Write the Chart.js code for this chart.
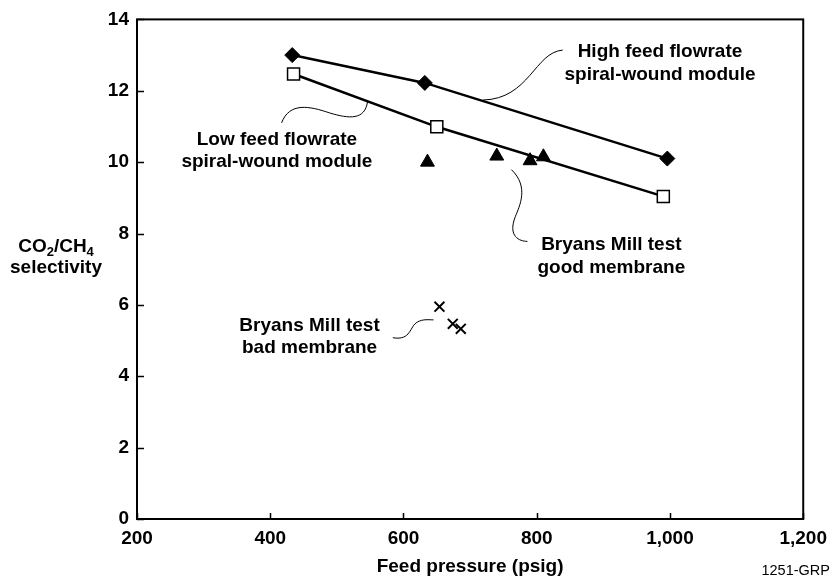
<!DOCTYPE html>
<html>
<head>
<meta charset="utf-8">
<script src="https://cdn.jsdelivr.net/npm/chart.js@4.4.1/dist/chart.umd.min.js"></script>
<style>
  body { margin: 0; background: #fff; }
  #wrap { position: relative; width: 835px; height: 578px; }
</style>
</head>
<body>
<div id="wrap"><canvas id="chart"></canvas></div>
<script>
// Feed pressure (psig) vs CO2/CH4 selectivity
const highFlowPressure = [433, 632, 996];
const highFlowSelectivity = [13.0, 12.22, 10.1];
const lowFlowPressure = [435, 650, 990];
const lowFlowSelectivity = [12.47, 10.99, 9.04];
const goodMembranePressure = [636, 740, 790, 810];
const goodMembraneSelectivity = [10.0, 10.17, 10.04, 10.15];
const badMembranePressure = [654, 674, 686];
const badMembraneSelectivity = [5.95, 5.47, 5.33];

const xTicks = [200, 400, 600, 800, 1000, 1200];
const yTicks = [0, 2, 4, 6, 8, 10, 12, 14];

const FONT = '"Liberation Sans", Arial, Helvetica, sans-serif';

const toPoints = (xs, ys) => xs.map((x, i) => ({ x: x, y: ys[i] }));

// callout labels: text lines, anchor (data units) and a leader curve (data units)
const callouts = [
  {
    lines: ['High feed flowrate', 'spiral-wound module'],
    at: [985, 12.94],
    curve: [[839, 13.14], [797, 13.08], [789, 11.77], [719, 11.74]]
  },
  {
    lines: ['Low feed flowrate', 'spiral-wound module'],
    at: [410, 10.49],
    curve: [[417, 11.1], [429, 11.69], [459, 11.57], [489, 11.38],
            [519, 11.21], [542, 11.18], [546, 11.69]]
  },
  {
    lines: ['Bryans Mill test', 'good membrane'],
    at: [912, 7.53],
    curve: [[762, 9.79], [789, 9.31], [774, 8.76], [768, 8.48],
            [756, 7.92], [774, 7.78], [786, 7.78]]
  },
  {
    lines: ['Bryans Mill test', 'bad membrane'],
    at: [459, 5.27],
    curve: [[584, 5.08], [612, 4.99], [609, 5.41], [621, 5.52],
            [629, 5.61], [639, 5.58], [645, 5.58]]
  }
];

const decorations = {
  id: 'decorations',
  afterDraw(chart) {
    const { ctx, chartArea: a, scales: { x, y } } = chart;
    ctx.save();

    // frame
    ctx.strokeStyle = '#000';
    ctx.lineWidth = 2;
    ctx.strokeRect(a.left, a.top, a.right - a.left, a.bottom - a.top);

    // inward tick marks
    ctx.lineWidth = 1.5;
    ctx.beginPath();
    xTicks.forEach(v => {
      const px = Math.round(x.getPixelForValue(v)) + 0.5;
      ctx.moveTo(px, a.bottom);
      ctx.lineTo(px, a.bottom - 6);
    });
    yTicks.forEach(v => {
      const py = Math.round(y.getPixelForValue(v)) + 0.5;
      ctx.moveTo(a.left, py);
      ctx.lineTo(a.left + 7, py);
    });
    ctx.stroke();

    // callouts
    ctx.fillStyle = '#000';
    ctx.font = 'bold 19px ' + FONT;
    ctx.textAlign = 'center';
    ctx.textBaseline = 'alphabetic';
    callouts.forEach(c => {
      const cx = x.getPixelForValue(c.at[0]);
      const cy = y.getPixelForValue(c.at[1]);
      c.lines.forEach((t, i) => ctx.fillText(t, cx, cy + i * 22.5));

      const p = c.curve.map(q => [x.getPixelForValue(q[0]), y.getPixelForValue(q[1])]);
      ctx.lineWidth = 1;
      ctx.beginPath();
      ctx.moveTo(p[0][0], p[0][1]);
      for (let i = 1; i + 2 < p.length; i += 3) {
        ctx.bezierCurveTo(p[i][0], p[i][1], p[i + 1][0], p[i + 1][1], p[i + 2][0], p[i + 2][1]);
      }
      ctx.stroke();
    });

    // y axis title with subscripts
    const parts = [['CO', false], ['2', true], ['/CH', false], ['4', true]];
    const big = 'bold 19px ' + FONT;
    const small = 'bold 13px ' + FONT;
    let total = 0;
    parts.forEach(([t, sub]) => {
      ctx.font = sub ? small : big;
      total += ctx.measureText(t).width;
    });
    let tx = 56 - total / 2;
    ctx.textAlign = 'left';
    parts.forEach(([t, sub]) => {
      ctx.font = sub ? small : big;
      ctx.fillText(t, tx, sub ? 256 : 252);
      tx += ctx.measureText(t).width;
    });
    ctx.font = big;
    ctx.textAlign = 'center';
    ctx.fillText('selectivity', 56, 273);

    // figure id
    ctx.font = '14.5px ' + FONT;
    ctx.textAlign = 'right';
    ctx.fillText('1251-GRP', 830, 575);

    ctx.restore();
  }
};

new Chart(document.getElementById('chart'), {
  type: 'scatter',
  data: {
    datasets: [
      {
        label: 'High feed flowrate spiral-wound module',
        data: toPoints(highFlowPressure, highFlowSelectivity),
        showLine: true,
        borderColor: '#000',
        borderWidth: 2.5,
        pointStyle: 'rectRot',
        pointRadius: 7.5,
        pointBackgroundColor: '#000',
        pointBorderColor: '#000',
        pointBorderWidth: 1
      },
      {
        label: 'Low feed flowrate spiral-wound module',
        data: toPoints(lowFlowPressure, lowFlowSelectivity),
        showLine: true,
        borderColor: '#000',
        borderWidth: 2.5,
        pointStyle: 'rect',
        pointRadius: 8.5,
        pointBackgroundColor: '#fff',
        pointBorderColor: '#000',
        pointBorderWidth: 1.5
      },
      {
        label: 'Bryans Mill test good membrane',
        data: toPoints(goodMembranePressure, goodMembraneSelectivity),
        pointStyle: 'triangle',
        pointRadius: 8,
        pointBackgroundColor: '#000',
        pointBorderColor: '#000',
        pointBorderWidth: 1
      },
      {
        label: 'Bryans Mill test bad membrane',
        data: toPoints(badMembranePressure, badMembraneSelectivity),
        pointStyle: 'crossRot',
        pointRadius: 7,
        pointBorderColor: '#000',
        pointBorderWidth: 2
      }
    ]
  },
  options: {
    responsive: true,
    maintainAspectRatio: false,
    animation: false,
    layout: { padding: { top: 17, right: 31, left: 0, bottom: 0 } },
    plugins: {
      legend: { display: false },
      tooltip: { enabled: false }
    },
    scales: {
      x: {
        type: 'linear',
        min: 200,
        max: 1200,
        afterBuildTicks: s => { s.ticks = xTicks.map(v => ({ value: v })); },
        afterFit: s => { s.height = 59; },
        grid: { display: false, drawTicks: false, tickLength: 0 },
        border: { display: false },
        ticks: {
          color: '#000',
          padding: 8,
          maxRotation: 0,
          autoSkip: false,
          font: { family: FONT, size: 19, weight: 'bold' },
          callback: v => v.toLocaleString('en-US')
        },
        title: {
          display: true,
          text: 'Feed pressure (psig)',
          color: '#000',
          padding: { top: 5, bottom: 0 },
          font: { family: FONT, size: 19, weight: 'bold' }
        }
      },
      y: {
        type: 'linear',
        min: 0,
        max: 14,
        afterBuildTicks: s => { s.ticks = yTicks.map(v => ({ value: v })); },
        afterFit: s => { s.width = 137; },
        grid: { display: false, drawTicks: false, tickLength: 0 },
        border: { display: false },
        ticks: {
          color: '#000',
          padding: 8,
          font: { family: FONT, size: 19, weight: 'bold' }
        }
      }
    }
  },
  plugins: [decorations]
});
</script>
</body>
</html>
